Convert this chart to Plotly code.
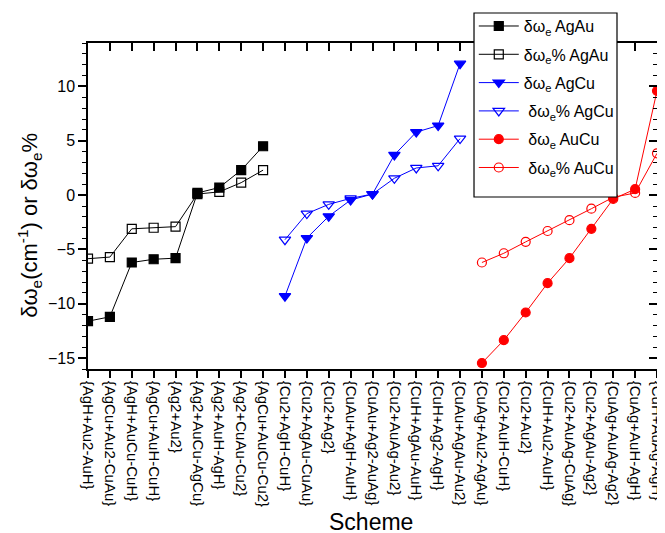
import plotly.graph_objects as go

categories = [
    "{AgH+Au2-AuH}", "{AgCu+Au2-CuAu}", "{AgH+AuCu-CuH}", "{AgCu+AuH-CuH}",
    "{Ag2+Au2}", "{Ag2+AuCu-AgCu}", "{Ag2+AuH-AgH}", "{Ag2+CuAu-Cu2}",
    "{AgCu+AuCu-Cu2}",
    "{Cu2+AgH-CuH}", "{Cu2+AgAu-CuAu}", "{Cu2+Ag2}", "{CuAu+AgH-AuH}",
    "{CuAu+Ag2-AuAg}", "{Cu2+AuAg-Au2}", "{CuH+AgAu-AuH}", "{CuH+Ag2-AgH}",
    "{CuAu+AgAu-Au2}",
    "{CuAg+Au2-AgAu}", "{Cu2+AuH-CuH}", "{Cu2+Au2}", "{CuH+Au2-AuH}",
    "{Cu2+AuAg-CuAg}", "{Cu2+AgAu-Ag2}", "{CuAg+AuAg-Ag2}", "{CuAg+AuH-AgH}",
    "{CuH+AuAg-AgH}",
]

agau_schemes = categories[0:9]
agcu_schemes = categories[9:18]
aucu_schemes = categories[18:27]

dw_agau = [-11.6, -11.2, -6.2, -5.9, -5.8, 0.2, 0.7, 2.3, 4.5]
dwp_agau = [-5.85, -5.7, -3.1, -3.0, -2.9, 0.1, 0.3, 1.15, 2.3]
dw_agcu = [-9.3, -3.95, -1.95, -0.45, 0.1, 3.7, 5.8, 6.4, 12.1]
dwp_agcu = [-4.1, -1.7, -0.85, -0.3, 0.1, 1.55, 2.5, 2.7, 5.2]
dw_aucu = [-15.45, -13.35, -10.8, -8.1, -5.8, -3.1, -0.35, 0.55, 9.6]
dwp_aucu = [-6.2, -5.35, -4.3, -3.3, -2.3, -1.25, -0.2, 0.2, 3.85]

y_ticks = [-15, -10, -5, 0, 5, 10]


def xs(schemes):
    return [categories.index(s) for s in schemes]


series = [
    ("δω<sub>e</sub> AgAu", agau_schemes, dw_agau, "black", "square"),
    ("δω<sub>e</sub>% AgAu", agau_schemes, dwp_agau, "black", "square-open"),
    ("δω<sub>e</sub> AgCu", agcu_schemes, dw_agcu, "#0000FF", "triangle-down"),
    ("\u00a0δω<sub>e</sub>% AgCu", agcu_schemes, dwp_agcu, "#0000FF", "triangle-down-open"),
    ("\u00a0δω<sub>e</sub> AuCu", aucu_schemes, dw_aucu, "#FF0000", "circle"),
    ("\u00a0δω<sub>e</sub>% AuCu", aucu_schemes, dwp_aucu, "#FF0000", "circle-open"),
]

fig = go.Figure()
for i, (name, sch, vals, col, sym) in enumerate(series):
    fig.add_trace(go.Scatter(
        x=xs(sch), y=vals, name=name, mode="lines+markers",
        line=dict(color=col, width=1),
        marker=dict(symbol=sym, size=10 if "triangle" in sym else 9, color=col,
                    line=dict(color=col, width=1.2)),
        legendgroup=str(i),
    ))

# invisible trace for the mirrored axes
fig.add_trace(go.Scatter(x=[0], y=[0], xaxis="x2", yaxis="y2", mode="markers",
                         marker=dict(opacity=0), showlegend=False, hoverinfo="skip"))

n = len(categories)
# page body adds an 8px offset; figure is sized to compensate
fig.update_layout(
    width=657, height=525,
    margin=dict(l=80, r=8, t=35, b=164, autoexpand=False),
    paper_bgcolor="white", plot_bgcolor="white",
    font=dict(family="Liberation Sans, Arial, sans-serif", color="black"),
    showlegend=True,
    xaxis=dict(
        range=[0, n - 1], tickmode="array", tickvals=list(range(n)), ticktext=categories,
        tickangle=90, ticks="outside", ticklen=7, tickwidth=1.5, tickcolor="black",
        showline=True, mirror=True, linecolor="black", linewidth=1.5, showgrid=False,
        zeroline=False, tickfont=dict(size=15), automargin=False, anchor="y",
        ticklabeloverflow="allow",
    ),
    yaxis=dict(
        range=[-16, 14], tickmode="array", tickvals=y_ticks,
        ticks="outside", ticklen=8, tickwidth=1.5, tickcolor="black",
        minor=dict(tickmode="array", tickvals=list(range(-16, 15)), ticks="outside",
                   ticklen=4, tickwidth=1.2, tickcolor="black"),
        showline=True, mirror=True, linecolor="black", linewidth=1.5, showgrid=False,
        zeroline=False, tickfont=dict(size=16), automargin=False, anchor="x",
    ),
    xaxis2=dict(
        overlaying="x", side="top", anchor="y", range=[0, n - 1], tickmode="array",
        tickvals=list(range(n)), showticklabels=False, ticks="inside", ticklen=8,
        tickwidth=1.5, tickcolor="black", showline=True, linecolor="black",
        linewidth=1.5, showgrid=False, zeroline=False, automargin=False,
    ),
    yaxis2=dict(
        overlaying="y", side="right", anchor="x", range=[-16, 14], tickmode="array",
        tickvals=y_ticks, showticklabels=False, ticks="inside", ticklen=8,
        tickwidth=1.5, tickcolor="black",
        minor=dict(tickmode="array", tickvals=list(range(-16, 15)), ticks="inside",
                   ticklen=4, tickwidth=1.2, tickcolor="black"),
        showline=True, linecolor="black", linewidth=1.5, showgrid=False, zeroline=False,
        automargin=False,
    ),
    legend=dict(
        x=0.678, y=1.104, xanchor="left", yanchor="top",
        bgcolor="rgba(0,0,0,0)", borderwidth=0,
        font=dict(size=16), tracegroupgap=4.5, itemwidth=40,
    ),
    shapes=[
        dict(type="rect", xref="paper", yref="paper",
             x0=0.6784, x1=0.9297, y0=0.5276, y1=1.092,
             fillcolor="white", line=dict(color="black", width=1.2), layer="above"),
    ],
    annotations=[
        dict(text="δω<sub>e</sub>(cm<sup>-1</sup>) or δω<sub>e</sub>%",
             xref="paper", yref="paper", x=-0.102, y=0.442, textangle=-90,
             showarrow=False, font=dict(size=22), xanchor="center", yanchor="middle"),
        dict(text="Scheme", xref="paper", yref="paper", x=0.498, y=-0.468,
             showarrow=False, font=dict(size=23), xanchor="center", yanchor="middle"),
    ],
)

fig.write_html("out.html")
